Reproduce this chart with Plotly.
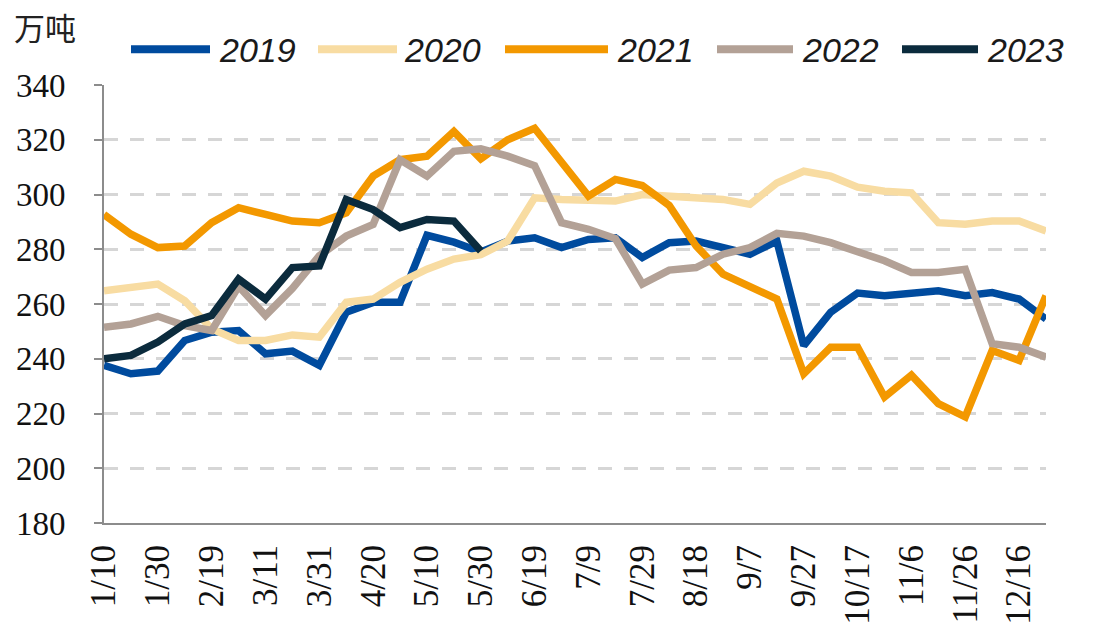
import plotly.graph_objects as go

categories = ["1/10", "1/20", "1/30", "2/9", "2/19", "3/1", "3/11", "3/21", "3/31", "4/10",
              "4/20", "4/30", "5/10", "5/20", "5/30", "6/9", "6/19", "6/29", "7/9", "7/19",
              "7/29", "8/8", "8/18", "8/28", "9/7", "9/17", "9/27", "10/7", "10/17", "10/27",
              "11/6", "11/16", "11/26", "12/6", "12/16", "12/26"]

y2019 = [237.6, 234.5, 235.5, 246.7, 249.7, 250.3, 241.8, 242.8, 237.6, 257.0,
         260.6, 260.6, 285.1, 282.6, 279.0, 283.0, 284.2, 280.6, 283.6, 284.2,
         277.0, 282.4, 283.0, 280.6, 278.2, 283.0, 244.8, 257.0, 264.0, 263.0,
         264.2, 264.8, 263.0, 264.2, 261.8, 254.5]
y2020 = [264.8, 266.0, 267.3, 261.2, 250.9, 246.7, 246.7, 248.7, 247.9, 260.6,
         261.8, 267.9, 272.7, 276.4, 278.0, 283.0, 298.8, 298.2, 297.6, 297.6,
         300.0, 299.4, 298.8, 298.2, 296.4, 304.2, 308.5, 306.7, 302.7, 301.2,
         300.6, 289.7, 289.1, 290.3, 290.3, 286.7]
y2021 = [292.7, 285.5, 280.6, 281.2, 289.7, 295.2, 292.7, 290.3, 289.7, 293.3,
         306.7, 312.7, 314.0, 323.0, 313.0, 320.0, 324.2, 311.5, 299.4, 305.5,
         303.3, 296.0, 281.2, 270.9, 266.7, 261.8, 234.5, 244.2, 244.2, 226.0,
         234.0, 223.6, 218.8, 243.0, 239.4, 263.0]
y2022 = [251.5, 252.7, 255.5, 252.1, 250.3, 266.5, 255.8, 265.7, 277.6, 284.8,
         289.1, 312.7, 306.7, 315.8, 316.7, 314.0, 310.5, 289.7, 287.3, 283.9,
         267.3, 272.4, 273.3, 278.2, 280.6, 285.8, 284.8, 282.4, 279.1, 275.8,
         271.5, 271.5, 272.7, 245.5, 244.2, 240.6]
y2023 = [240.0, 241.2, 246.1, 252.7, 255.8, 269.1, 261.8, 273.3, 273.9, 298.2,
         294.5, 287.9, 290.9, 290.3, 279.4]

series_names = ["2019", "2020", "2021", "2022", "2023"]
series_values = [y2019, y2020, y2021, y2022, y2023]
series_colors = ["#004B9E", "#F8DCA2", "#F39800", "#B3A196", "#0B2B3D"]

y_ticks = [180, 200, 220, 240, 260, 280, 300, 320, 340]
x_ticks = categories[::2]
unit_label = "万吨"

# layout geometry (pixels)
W, H = 1097, 637
L, R, T, B = 104, 51, 85, 112
PW, PH = W - L - R, H - T - B


def px_x(p):
    return (p - L) / PW


def px_y(p):
    return (H - B - p) / PH


fig = go.Figure()
for name, vals, col in zip(series_names, series_values, series_colors):
    fig.add_trace(go.Scatter(
        x=categories[:len(vals)], y=vals, name=name, mode="lines",
        line=dict(color=col, width=7.5), showlegend=False,
    ))

# legend drawn as line samples + italic labels (matches the long samples of the original)
legend_line_px = [(131, 210), (318, 397), (505, 608), (717, 793), (902, 978)]
legend_text_px = [217, 402, 615, 800, 985]
shapes = []
annotations = []
for (x0, x1), tx, name, col in zip(legend_line_px, legend_text_px, series_names, series_colors):
    shapes.append(dict(type="line", xref="paper", yref="paper",
                       x0=px_x(x0), x1=px_x(x1), y0=px_y(49), y1=px_y(49),
                       line=dict(color=col, width=8)))
    annotations.append(dict(text=name, xref="paper", yref="paper",
                            x=px_x(tx), y=px_y(50), xanchor="left", yanchor="middle",
                            showarrow=False,
                            font=dict(family="Liberation Sans", size=34, color="#1a1a1a",
                                      style="italic")))

annotations.append(dict(
    text=unit_label, xref="paper", yref="paper",
    x=px_x(12), y=px_y(26), xanchor="left", yanchor="middle",
    showarrow=False,
    font=dict(family="Noto Sans CJK SC", size=31, color="#222222"),
))

fig.update_layout(
    width=W, height=H,
    margin=dict(l=L, r=R, t=T, b=B),
    paper_bgcolor="white", plot_bgcolor="white",
    showlegend=False,
    xaxis=dict(
        type="category", categoryorder="array", categoryarray=categories,
        range=[0, 35], tickmode="array", tickvals=x_ticks, ticktext=x_ticks,
        tickangle=-90, showgrid=False, showline=True, linecolor="#8c8c8c",
        linewidth=2, ticks="", zeroline=False,
        tickfont=dict(family="Liberation Serif", size=35, color="#111111"),
        ticklabelstandoff=6,
    ),
    yaxis=dict(
        range=[180, 340], tickmode="array", tickvals=y_ticks,
        showgrid=True, gridcolor="#D6D6D6", gridwidth=2.5, griddash="14px,12px",
        showline=True, linecolor="#8c8c8c", linewidth=2,
        ticks="outside", ticklen=8, tickcolor="#8c8c8c", tickwidth=2,
        zeroline=False,
        tickfont=dict(family="Liberation Serif", size=33, color="#111111"),
        ticklabelstandoff=22,
    ),
    shapes=shapes,
    annotations=annotations,
)

fig.write_html(
    "out.html",
    config={"displayModeBar": False},
    post_script="document.body.style.margin='0';document.body.style.overflow='hidden';",
)
